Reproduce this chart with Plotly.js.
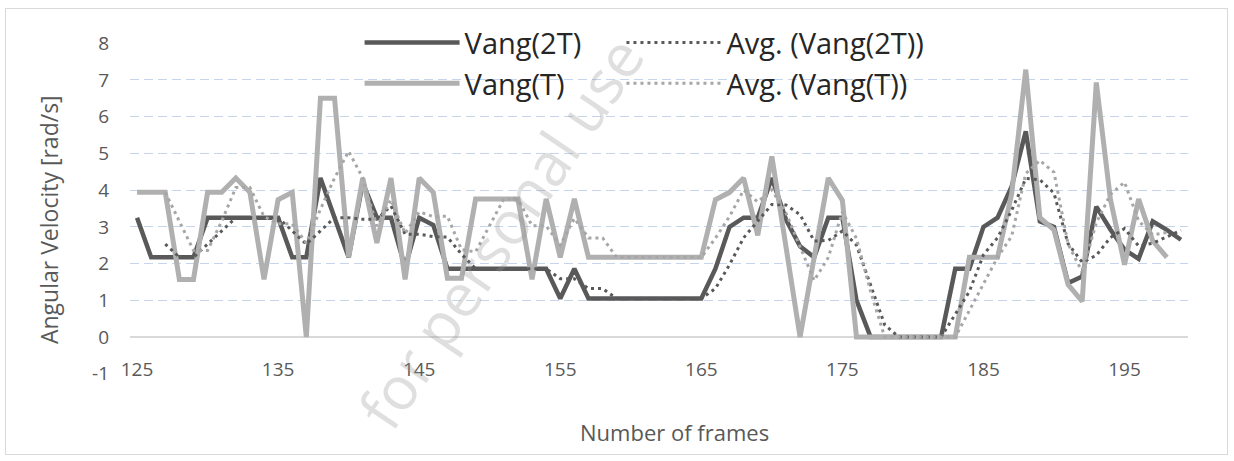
<!DOCTYPE html>
<html><head><meta charset="utf-8">
<script src="https://cdn.plot.ly/plotly-3.0.1.min.js"></script>
<style>
html,body{margin:0;padding:0;background:#fff;}
#frame{position:absolute;left:5px;top:8px;width:1223px;height:447px;border:1px solid #d9d9d9;box-sizing:border-box;}
#chart{position:absolute;left:0;top:0;width:1234px;height:461px;}
</style></head><body>
<div id="frame"></div>
<div id="chart"></div>
<script>
// Categories (frame numbers)
const frames = [125,126,127,128,129,130,131,132,133,134,135,136,137,138,139,140,141,142,143,144,
  145,146,147,148,149,150,151,152,153,154,155,156,157,158,159,160,161,162,163,164,
  165,166,167,168,169,170,171,172,173,174,175,176,177,178,179,180,181,182,183,184,
  185,186,187,188,189,190,191,192,193,194,195,196,197,198,199];

// Series: Vang(2T)
const vang2T = [3.25,2.17,2.17,2.17,2.17,3.25,3.25,3.25,3.25,3.25,3.25,2.17,2.17,4.33,3.25,2.17,4.2,3.25,3.25,1.9,
  3.25,3.05,1.86,1.86,1.86,1.86,1.86,1.86,1.86,1.86,1.05,1.86,1.05,1.05,1.05,1.05,1.05,1.05,1.05,1.05,
  1.05,1.86,3.0,3.25,3.25,4.33,3.2,2.47,2.17,3.25,3.25,1.0,0,0,0,0,0,0,1.86,1.86,
  3.0,3.25,4.1,5.6,3.15,3.0,1.47,1.65,3.55,2.93,2.38,2.13,3.15,2.92,2.65];

// Series: Vang(T)
const vangT = [3.94,3.94,3.94,1.57,1.57,3.94,3.94,4.33,3.94,1.57,3.74,3.94,0,6.5,6.5,2.17,4.33,2.56,4.33,1.57,
  4.33,3.94,1.6,1.6,3.76,3.76,3.76,3.76,1.57,3.76,2.17,3.76,2.17,2.17,2.17,2.17,2.17,2.17,2.17,2.17,
  2.17,3.74,3.94,4.33,2.77,4.92,2.45,0,2.17,4.33,3.72,0,0,0,0,0,0,0,0,2.17,
  2.17,2.17,3.9,7.28,3.25,2.92,1.43,0.97,6.93,3.75,1.97,3.76,2.62,2.17,null];

// Tick labels
const xTickVals = [125,135,145,155,165,175,185,195];
const xTickText = ['125','135','145','155','165','175','185','195'];
const yTickVals = [-1,0,1,2,3,4,5,6,7,8];
const yTickText = ['-1','0','1','2','3','4','5','6','7','8'];

// Excel-style moving-average trendline (period 3), derived from the series above
const maPeriod = 3;
function movingAverage(values, period) {
  return values.map((v, i) => {
    if (i < period - 1) return null;
    const win = values.slice(i - period + 1, i + 1);
    if (win.some(w => w === null)) return null;
    return win.reduce((a, b) => a + b, 0) / period;
  });
}
const avg2T = movingAverage(vang2T, maPeriod);
const avgT = movingAverage(vangT, maPeriod);

const FONT = '"Open Sans", sans-serif';
const DARK = '#595959';
const LIGHT = '#b0b0b0';

const traces = [
  {x: frames, y: vang2T, name: 'Vang(2T)', type: 'scatter', mode: 'lines', legend: 'legend',
   line: {color: DARK, width: 4.5}},
  {x: frames, y: vangT, name: 'Vang(T)', type: 'scatter', mode: 'lines', legend: 'legend',
   line: {color: LIGHT, width: 5}},
  {x: frames, y: avg2T, name: 'Avg. (Vang(2T))', type: 'scatter', mode: 'lines', legend: 'legend2',
   line: {color: DARK, width: 3, dash: '3px,4px'}},
  {x: frames, y: avgT, name: 'Avg. (Vang(T))', type: 'scatter', mode: 'lines', legend: 'legend2',
   line: {color: '#a6a6a6', width: 3, dash: '3px,4px'}}
];

const legendFont = {family: FONT, size: 29, color: '#262626'};
const layout = {
  width: 1234, height: 461,
  margin: {l: 130, r: 46, t: 43, b: 87, pad: 0},
  paper_bgcolor: 'rgba(0,0,0,0)', plot_bgcolor: 'rgba(0,0,0,0)',
  font: {family: FONT, color: DARK},
  showlegend: true,
  legend: {
    orientation: 'v', x: 0.217, xanchor: 'left', y: 1.078, yanchor: 'top',
    itemwidth: 95, font: legendFont, bgcolor: 'rgba(255,255,255,0)', traceorder: 'normal'
  },
  legend2: {
    orientation: 'v', x: 0.4645, xanchor: 'left', y: 1.078, yanchor: 'top',
    itemwidth: 95, font: legendFont, bgcolor: 'rgba(255,255,255,0)', traceorder: 'normal'
  },
  xaxis: {
    range: [124.5, 199.5], tickmode: 'array', tickvals: xTickVals, ticktext: xTickText,
    showgrid: false, zeroline: false, showline: false, ticks: '',
    tickfont: {family: FONT, size: 19, color: DARK},
    ticklabelstandoff: -18
  },
  yaxis: {
    range: [-1.005, 8.005], tickmode: 'array', tickvals: yTickVals, ticktext: yTickText,
    showgrid: true, gridcolor: '#c5d5ec', gridwidth: 1, griddash: '9px,5px',
    zeroline: true, zerolinecolor: '#d9d9d9', zerolinewidth: 2,
    showline: false, ticks: '', ticklabelstandoff: 20,
    tickfont: {family: FONT, size: 19, color: DARK}
  },
  annotations: [
    {text: 'Number of frames', xref: 'paper', yref: 'paper', x: 0.515, y: -0.175,
     xanchor: 'center', yanchor: 'middle', showarrow: false,
     font: {family: FONT, size: 22, color: DARK}},
    {text: 'Angular Velocity [rad/s]', xref: 'paper', yref: 'paper', x: -0.0766, y: 0.468,
     xanchor: 'center', yanchor: 'middle', showarrow: false, textangle: -90,
     font: {family: FONT, size: 23, color: DARK}},
    {text: 'for personal use', xref: 'paper', yref: 'paper', x: 0.35, y: 0.43,
     showarrow: false, textangle: -56,
     font: {family: FONT, size: 60, color: 'rgba(150,150,150,0.3)'}}
  ]
};

Plotly.newPlot('chart', traces, layout, {displayModeBar: false, staticPlot: true});
</script>
</body></html>
